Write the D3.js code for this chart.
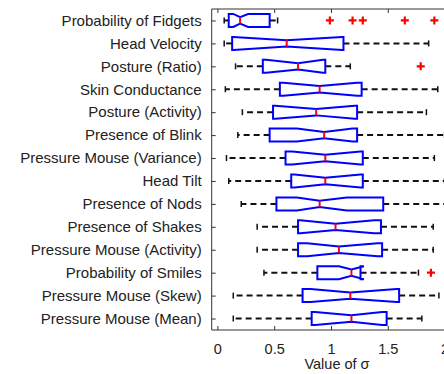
<!DOCTYPE html>
<html>
<head>
<meta charset="utf-8">
<script src="https://cdn.jsdelivr.net/npm/d3@7"></script>
<style>
  body { margin: 0; background: #fff; }
  svg { display: block; font-family: "Liberation Sans", Arial, sans-serif; }
</style>
</head>
<body>
<svg id="chart" width="444" height="374"></svg>
<script>
// Notched box plot of sigma values per feature

var features = ["Probability of Fidgets", "Head Velocity", "Posture (Ratio)", "Skin Conductance",
  "Posture (Activity)", "Presence of Blink", "Pressure Mouse (Variance)", "Head Tilt",
  "Presence of Nods", "Presence of Shakes", "Pressure Mouse (Activity)", "Probability of Smiles",
  "Pressure Mouse (Skew)", "Pressure Mouse (Mean)"];

var whiskerLow  = [0.06, 0.06, 0.16, 0.07, 0.22, 0.18, 0.08, 0.10, 0.21, 0.35, 0.35, 0.41, 0.14, 0.14];
var q1          = [0.10, 0.13, 0.40, 0.55, 0.49, 0.46, 0.60, 0.65, 0.52, 0.71, 0.71, 0.88, 0.75, 0.83];
var medians     = [0.20, 0.61, 0.71, 0.90, 0.87, 0.94, 0.95, 0.95, 0.90, 1.04, 1.07, 1.18, 1.17, 1.18];
var q3          = [0.46, 1.11, 0.95, 1.27, 1.23, 1.23, 1.28, 1.28, 1.46, 1.44, 1.45, 1.26, 1.60, 1.49];
var whiskerHigh = [0.53, 1.86, 1.17, 1.94, 1.84, 2.00, 1.91, 2.00, 2.01, 1.90, 1.90, 1.77, 1.95, 1.80];
var notchLow    = [0.14, 0.14, 0.43, 0.58, 0.51, 0.70, 0.66, 0.68, 0.70, 0.73, 0.79, 1.07, 0.82, 0.86];
var notchHigh   = [0.27, 1.10, 0.93, 1.23, 1.21, 1.19, 1.26, 1.26, 1.14, 1.38, 1.41, 1.29, 1.58, 1.45];
var outliers    = [[0.99, 1.19, 1.28, 1.65, 1.91], [], [1.79], [], [], [], [], [], [], [], [], [1.88], [], []];

var xTicks = [0, 0.5, 1, 1.5, 2];

var svg = d3.select("#chart");
var plotLeft = 211.7, plotTop = 9, plotBottom = 330;

var x = d3.scaleLinear().domain([-0.05, 2.05]).range([plotLeft, plotLeft + 2.1 * 113.6]);
var y = d3.scalePoint().domain(features).range([plotTop, plotBottom]).padding(0.5);

var boxHalf = 6.5;   // half box height
var notchHalf = 3.2; // half width at the median

var rows = features.map(function (f, i) {
  return { name: f, lo: whiskerLow[i], q1: q1[i], med: medians[i], q3: q3[i], hi: whiskerHigh[i],
           nlo: notchLow[i], nhi: notchHigh[i], out: outliers[i] };
});

// axes frame
svg.append("line").attr("x1", plotLeft).attr("x2", 444).attr("y1", plotTop).attr("y2", plotTop)
  .attr("stroke", "#333").attr("stroke-width", 1);
svg.append("line").attr("x1", plotLeft).attr("x2", 444).attr("y1", plotBottom).attr("y2", plotBottom)
  .attr("stroke", "#333").attr("stroke-width", 1);
svg.append("line").attr("x1", plotLeft).attr("x2", plotLeft).attr("y1", plotTop).attr("y2", plotBottom)
  .attr("stroke", "#333").attr("stroke-width", 1);

var gx = svg.append("g").attr("transform", "translate(0," + plotBottom + ")")
  .call(d3.axisBottom(x).tickValues(xTicks).tickSize(-4).tickPadding(14).tickFormat(d3.format("")));
gx.select(".domain").remove();
gx.selectAll("line").attr("stroke", "#333");
gx.selectAll("text").attr("font-size", 14.5).attr("fill", "#222");

var gt = svg.append("g").attr("transform", "translate(0," + plotTop + ")")
  .call(d3.axisTop(x).tickValues(xTicks).tickSize(-4).tickFormat(""));
gt.select(".domain").remove();
gt.selectAll("line").attr("stroke", "#333");

var gy = svg.append("g").attr("transform", "translate(" + plotLeft + ",0)")
  .call(d3.axisLeft(y).tickSize(-4).tickPadding(10));
gy.select(".domain").remove();
gy.selectAll("line").attr("stroke", "#333");
gy.selectAll("text").attr("font-size", 15).attr("fill", "#222");

svg.append("text").attr("x", 337).attr("y", 364).attr("dy", "0.35em")
  .attr("text-anchor", "middle").attr("font-size", 14.5).attr("fill", "#222")
  .text("Value of σ");

var g = svg.append("g").selectAll("g").data(rows).join("g")
  .attr("transform", function (d) { return "translate(0," + y(d.name) + ")"; });

// whiskers, dashed
g.append("line").attr("x1", function (d) { return x(d.q1); }).attr("x2", function (d) { return x(d.lo); })
  .attr("stroke", "#111").attr("stroke-width", 2).attr("stroke-dasharray", "6,4");
g.append("line").attr("x1", function (d) { return x(d.q3); }).attr("x2", function (d) { return x(d.hi); })
  .attr("stroke", "#111").attr("stroke-width", 2).attr("stroke-dasharray", "6,4");

// whisker caps
g.selectAll("line.cap").data(function (d) { return [d.lo, d.hi]; }).join("line")
  .attr("class", "cap")
  .attr("x1", function (v) { return x(v); }).attr("x2", function (v) { return x(v); })
  .attr("y1", -3).attr("y2", 3)
  .attr("stroke", "#111").attr("stroke-width", 1.5);

// notched box
g.append("path")
  .attr("d", function (d) {
    var pts = [[x(d.q1), -boxHalf], [x(d.nlo), -boxHalf], [x(d.med), -notchHalf], [x(d.nhi), -boxHalf],
               [x(d.q3), -boxHalf], [x(d.q3), boxHalf], [x(d.nhi), boxHalf], [x(d.med), notchHalf],
               [x(d.nlo), boxHalf], [x(d.q1), boxHalf]];
    return "M" + pts.join("L") + "Z";
  })
  .attr("fill", "none").attr("stroke", "#0000ff").attr("stroke-width", 2);

// median
g.append("line").attr("x1", function (d) { return x(d.med); }).attr("x2", function (d) { return x(d.med); })
  .attr("y1", -notchHalf).attr("y2", notchHalf)
  .attr("stroke", "#ff0000").attr("stroke-width", 2);

// outliers
g.selectAll("path.out").data(function (d) { return d.out; }).join("path")
  .attr("class", "out")
  .attr("d", function (v) { var cx = x(v); return "M" + (cx - 4) + ",0H" + (cx + 4) + "M" + cx + ",-4V4"; })
  .attr("stroke", "#ff0000").attr("stroke-width", 2.2);
</script>
</body>
</html>
